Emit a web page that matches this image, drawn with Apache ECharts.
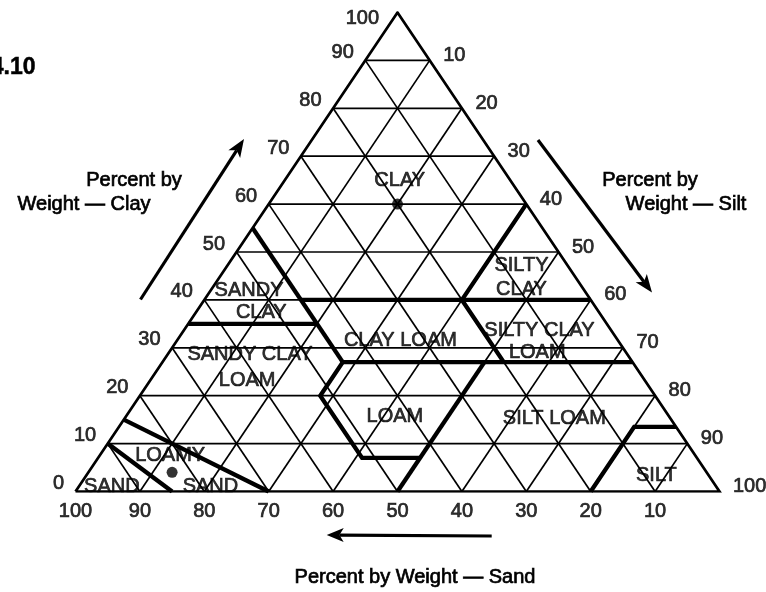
<!DOCTYPE html>
<html>
<head>
<meta charset="utf-8">
<title>Soil texture triangle</title>
<script src="https://cdn.jsdelivr.net/npm/echarts@6/dist/echarts.min.js"></script>
<style>
  html, body { margin: 0; padding: 0; background: #ffffff; }
  #chart { width: 766px; height: 592px; }
</style>
</head>
<body>
<div id="chart"></div>
<script>
// ---- Tick values on the three sides of the triangle ----
const clayTicks = [0, 10, 20, 30, 40, 50, 60, 70, 80, 90, 100];
const siltTicks = [10, 20, 30, 40, 50, 60, 70, 80, 90, 100];
const sandTicks = [100, 90, 80, 70, 60, 50, 40, 30, 20, 10];

// ---- Texture class boundaries, each a polyline of [sand, silt, clay] % ----
const boundaryClaySandyClay   = [[45, 0, 55], [45, 28, 27]];
const boundarySandyClayBase   = [[65, 0, 35], [45, 20, 35]];
const boundaryClay40          = [[45, 15, 40], [0, 60, 40]];
const boundaryClay27          = [[45, 28, 27], [0, 73, 27]];
const boundaryLoamLeft        = [[45, 28, 27], [52, 28, 20], [52, 41, 7], [43, 50, 7]];
const boundaryLoamSiltLoam    = [[50, 50, 0], [23, 50, 27]];
const boundarySiltyClay       = [[20, 53, 27], [20, 40, 40], [0, 40, 60]];
const boundarySilt            = [[20, 80, 0], [6.5, 80, 13.5], [0, 86.5, 13.5]];
const boundarySandLoamySand   = [[90, 0, 10], [85, 15, 0]];
const boundaryLoamySandLoam   = [[85, 0, 15], [70, 30, 0]];

// ---- Sample soils plotted as dots, [sand, silt, clay] % ----
const samplePoints = [[20, 20, 60], [83, 13, 4]];

// ---- Texture class names and where each word sits, [sand, silt, clay] % ----
const classNames = ['CLAY', 'SILTY', 'CLAY', 'SANDY', 'CLAY', 'CLAY LOAM',
  'SILTY CLAY', 'LOAM', 'SANDY CLAY', 'LOAM', 'LOAM', 'SILT LOAM',
  'LOAMY', 'SAND', 'SAND', 'SILT'];
const classAnchors = [
  [17.2, 17.9, 64.9], [7.2, 45.7, 47.1], [9.7, 48.2, 42.1], [52.1, 6.0, 41.9],
  [52.5, 10.2, 37.3], [33.8, 34.7, 31.5], [11.1, 55.2, 33.7], [13.8, 57.2, 29.0],
  [58.6, 12.8, 28.6], [61.8, 15.1, 23.1], [42.6, 41.8, 15.6], [18.0, 66.7, 15.3],
  [81.5, 10.9, 7.6], [93.8, 5.1, 1.1], [78.5, 20.4, 1.1], [8.1, 88.5, 3.4]
];

// Ternary [sand, silt, clay] -> cartesian units (x: 0..100 left to right, y: clay)
function tern(p) { return [p[1] + p[2] / 2, p[2]]; }

const FONT = 'Liberation Sans, Arial, Helvetica, sans-serif';
const INK = '#000000';
const STROKE = 0.7;   // slight outline so the lettering reads heavy

// Thin 10 % grid in all three directions
const gridLines = [];
for (let k = 10; k <= 90; k += 10) {
  gridLines.push({ coords: [tern([100 - k, 0, k]), tern([0, 100 - k, k])] });   // constant clay
  gridLines.push({ coords: [tern([k, 100 - k, 0]), tern([k, 0, 100 - k])] });   // constant sand
  gridLines.push({ coords: [tern([100 - k, k, 0]), tern([0, k, 100 - k])] });   // constant silt
}

const outline = [{ coords: [tern([100, 0, 0]), tern([0, 100, 0]), tern([0, 0, 100]), tern([100, 0, 0])] }];

const boundaries = [boundaryClaySandyClay, boundarySandyClayBase, boundaryClay40, boundaryClay27,
  boundaryLoamLeft, boundaryLoamSiltLoam, boundarySiltyClay, boundarySilt,
  boundarySandLoamySand, boundaryLoamySandLoam].map(b => ({ coords: b.map(tern) }));

const baseText = { color: INK, fontFamily: FONT, fontSize: 20,
  textBorderColor: INK, textBorderWidth: STROKE };

// Side labels
const clayLabelData = clayTicks.map(c => {
  const item = { value: tern([100 - c, 0, c]), name: String(c) };
  if (c === 100) item.label = { offset: [-7, 6] };
  return item;
});
const siltLabelData = siltTicks.map(s => ({ value: tern([0, s, 100 - s]), name: String(s) }));
const sandLabelData = sandTicks.map(s => ({ value: tern([s, 100 - s, 0]), name: String(s) }));
const classLabelData = classNames.map((n, i) => ({ value: tern(classAnchors[i]), name: n }));

function labelSeries(data, label) {
  return {
    type: 'scatter', data: data, symbolSize: 1, silent: true,
    itemStyle: { color: 'rgba(0,0,0,0)' },
    label: Object.assign({ show: true, formatter: '{b}' }, baseText, label),
    z: 10
  };
}

// Arrow made of a shaft and a filled head
function arrow(from, to, headLen, headWidth) {
  const dx = to[0] - from[0], dy = to[1] - from[1];
  const len = Math.hypot(dx, dy), ux = dx / len, uy = dy / len;
  const bx = to[0] - ux * headLen, by = to[1] - uy * headLen;
  const nx = -uy * headWidth / 2, ny = ux * headWidth / 2;
  const nbx = to[0] - ux * headLen * 0.75, nby = to[1] - uy * headLen * 0.75;
  return [
    { type: 'line', shape: { x1: from[0], y1: from[1], x2: nbx, y2: nby },
      style: { stroke: INK, lineWidth: 3.2 } },
    { type: 'polygon', shape: { points: [to, [bx + nx, by + ny], [nbx, nby], [bx - nx, by - ny]] },
      style: { fill: INK } }
  ];
}

function text(x, y, t, opts) {
  return { type: 'text', x: x, y: y,
    style: Object.assign({ text: t, fill: INK, font: '20px ' + FONT, textAlign: 'center',
      textVerticalAlign: 'middle', stroke: INK, lineWidth: STROKE }, opts || {}) };
}

const chart = echarts.init(document.getElementById('chart'), null, { renderer: 'canvas' });

chart.setOption({
  animation: false,
  backgroundColor: '#ffffff',
  grid: { left: 75.5, top: 12.5, width: 644, height: 479, containLabel: false },
  xAxis: { type: 'value', min: 0, max: 100, show: false },
  yAxis: { type: 'value', min: 0, max: 100, show: false },
  series: [
    { type: 'lines', coordinateSystem: 'cartesian2d', polyline: true, silent: true,
      data: gridLines, lineStyle: { color: INK, width: 1.7, opacity: 1 }, z: 2 },
    { type: 'lines', coordinateSystem: 'cartesian2d', polyline: true, silent: true,
      data: outline, lineStyle: { color: INK, width: 2.7, opacity: 1, join: 'miter' }, z: 3 },
    { type: 'lines', coordinateSystem: 'cartesian2d', polyline: true, silent: true,
      data: boundaries, lineStyle: { color: INK, width: 4.3, opacity: 1 }, z: 4 },
    { type: 'scatter', data: samplePoints.map(tern), symbol: 'circle', symbolSize: 11,
      itemStyle: { color: INK }, silent: true, z: 6 },
    labelSeries(clayLabelData, { position: 'left', distance: 11, offset: [0, -8] }),
    labelSeries(siltLabelData, { position: 'right', distance: 13, offset: [0, -5] }),
    labelSeries(sandLabelData, { position: 'bottom', distance: 9 }),
    labelSeries(classLabelData, { position: 'inside' })
  ],
  graphic: [].concat(
    arrow([140.5, 299.5], [244, 139], 18, 14),
    arrow([538, 140], [652, 292.5], 18, 14),
    arrow([491.7, 536], [326.7, 535], 17, 14),
    [
      text(134, 180, 'Percent by'),
      text(84, 204, 'Weight \u2014 Clay'),
      text(650, 180, 'Percent by'),
      text(686, 204, 'Weight \u2014 Silt'),
      text(415, 577, 'Percent by Weight \u2014 Sand'),
      text(35.5, 68, '4.10', { textAlign: 'right', font: 'bold 23px ' + FONT, lineWidth: 0.5 })
    ]
  )
});
</script>
</body>
</html>
